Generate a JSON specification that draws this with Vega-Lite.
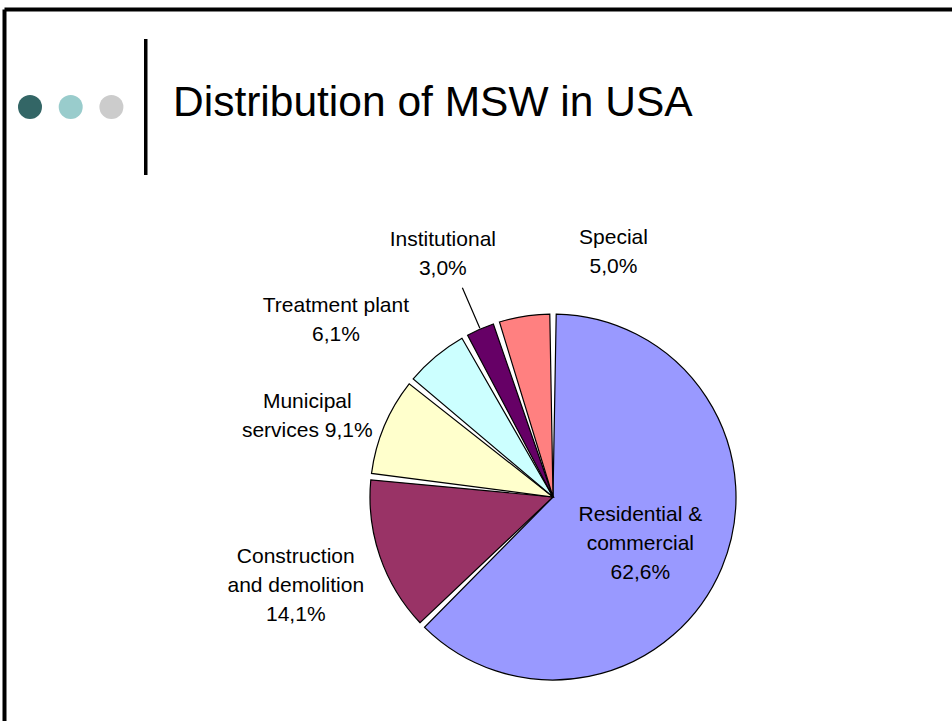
{
  "$schema": "https://vega.github.io/schema/vega-lite/v6.json",
  "width": 1098,
  "height": 976,
  "autosize": {"type": "none"},
  "padding": {"left": 4, "top": 9, "right": 0, "bottom": 0},
  "background": "white",
  "config": {
    "view": {"stroke": null},
    "font": "Liberation Sans"
  },
  "title": {
    "text": "Distribution of MSW in USA",
    "anchor": "start",
    "frame": "group",
    "orient": "top",
    "offset": 0,
    "dx": 169,
    "dy": 155,
    "baseline": "alphabetic",
    "font": "Liberation Sans",
    "fontSize": 42.5,
    "fontWeight": "normal",
    "color": "#000000"
  },
  "data": {
    "values": [
      {"category": "Residential & commercial", "share": 62.6, "rank": 1, "label": ["Residential &", "commercial", "62,6%"]},
      {"category": "Construction and demolition", "share": 14.1, "rank": 2, "label": ["Construction", "and demolition", "14,1%"]},
      {"category": "Municipal services", "share": 9.1, "rank": 3, "label": ["Municipal", "services 9,1%"]},
      {"category": "Treatment plant", "share": 6.1, "rank": 4, "label": ["Treatment plant", "6,1%"]},
      {"category": "Institutional", "share": 3.0, "rank": 5, "label": ["Institutional", "3,0%"]},
      {"category": "Special", "share": 5.0, "rank": 6, "label": ["Special", "5,0%"]}
    ]
  },
  "layer": [
    {
      "mark": {"type": "arc", "radius": 183, "stroke": "black", "strokeWidth": 1.2, "padAngle": 0.035},
      "encoding": {
        "theta": {"field": "share", "type": "quantitative", "stack": true},
        "order": {"field": "rank", "type": "quantitative"},
        "color": {
          "field": "category",
          "type": "nominal",
          "scale": {
            "domain": ["Residential & commercial", "Construction and demolition", "Municipal services", "Treatment plant", "Institutional", "Special"],
            "range": ["#9999FF", "#993366", "#FFFFCC", "#CCFFFF", "#660066", "#FF8080"]
          },
          "legend": null
        }
      }
    },
    {
      "mark": {"type": "arc", "radius": 228, "radius2": 184, "padAngle": 3, "filled": false, "stroke": "black", "strokeWidth": 1.2},
      "encoding": {
        "theta": {"field": "share", "type": "quantitative", "stack": true},
        "order": {"field": "rank", "type": "quantitative"},
        "detail": {"field": "category"},
        "strokeOpacity": {"condition": {"test": "datum.category === 'Institutional'", "value": 1}, "value": 0}
      }
    },
    {
      "mark": {"type": "text", "radius": 98, "dx": -3, "dy": -20, "fontSize": 21, "lineHeight": 29, "align": "center", "baseline": "middle", "fill": "black"},
      "encoding": {
        "theta": {"field": "share", "type": "quantitative", "stack": true},
        "order": {"field": "rank", "type": "quantitative"},
        "detail": {"field": "category"},
        "text": {"condition": {"test": "datum.category === 'Residential & commercial'", "field": "label"}, "value": ""}
      }
    },
    {
      "mark": {"type": "text", "radius": 271, "dx": -1, "dy": -28, "fontSize": 21, "lineHeight": 29, "align": "center", "baseline": "middle", "fill": "black"},
      "encoding": {
        "theta": {"field": "share", "type": "quantitative", "stack": true},
        "order": {"field": "rank", "type": "quantitative"},
        "detail": {"field": "category"},
        "text": {"condition": {"test": "datum.category === 'Construction and demolition'", "field": "label"}, "value": ""}
      }
    },
    {
      "mark": {"type": "text", "radius": 260, "dx": -6, "dy": 6, "fontSize": 21, "lineHeight": 29, "align": "center", "baseline": "middle", "fill": "black"},
      "encoding": {
        "theta": {"field": "share", "type": "quantitative", "stack": true},
        "order": {"field": "rank", "type": "quantitative"},
        "detail": {"field": "category"},
        "text": {"condition": {"test": "datum.category === 'Municipal services'", "field": "label"}, "value": ""}
      }
    },
    {
      "mark": {"type": "text", "radius": 275, "dx": -41, "dy": 20, "fontSize": 21, "lineHeight": 29, "align": "center", "baseline": "middle", "fill": "black"},
      "encoding": {
        "theta": {"field": "share", "type": "quantitative", "stack": true},
        "order": {"field": "rank", "type": "quantitative"},
        "detail": {"field": "category"},
        "text": {"condition": {"test": "datum.category === 'Treatment plant'", "field": "label"}, "value": ""}
      }
    },
    {
      "mark": {"type": "text", "radius": 267, "dx": -4, "dy": -12, "fontSize": 21, "lineHeight": 29, "align": "center", "baseline": "middle", "fill": "black"},
      "encoding": {
        "theta": {"field": "share", "type": "quantitative", "stack": true},
        "order": {"field": "rank", "type": "quantitative"},
        "detail": {"field": "category"},
        "text": {"condition": {"test": "datum.category === 'Institutional'", "field": "label"}, "value": ""}
      }
    },
    {
      "mark": {"type": "text", "radius": 233, "dx": 97, "dy": -29, "fontSize": 21, "lineHeight": 29, "align": "center", "baseline": "middle", "fill": "black"},
      "encoding": {
        "theta": {"field": "share", "type": "quantitative", "stack": true},
        "order": {"field": "rank", "type": "quantitative"},
        "detail": {"field": "category"},
        "text": {"condition": {"test": "datum.category === 'Special'", "field": "label"}, "value": ""}
      }
    },
    {
      "mark": {"type": "text", "text": ""},
      "encoding": {
        "x": {
          "datum": 0,
          "type": "quantitative",
          "axis": {"orient": "top", "domainColor": "black", "domainWidth": 4, "ticks": false, "labels": false, "grid": false, "title": null}
        },
        "y": {
          "datum": 0,
          "type": "quantitative",
          "axis": {"orient": "left", "domainColor": "black", "domainWidth": 4, "ticks": false, "labels": false, "grid": false, "title": null}
        },
        "fill": {
          "datum": "d1",
          "type": "nominal",
          "scale": {"domain": ["d1", "d2", "d3"], "range": ["#336666", "#99CCCC", "#CCCCCC"]},
          "legend": {
            "orient": "none",
            "legendX": 14,
            "legendY": 86,
            "direction": "horizontal",
            "title": null,
            "symbolType": "circle",
            "symbolSize": 576,
            "symbolStrokeWidth": 0,
            "symbolOpacity": 1,
            "labelExpr": "''",
            "labelOffset": 0,
            "columnPadding": 16.7,
            "padding": 0
          }
        },
        "stroke": {
          "datum": 0.5,
          "type": "quantitative",
          "scale": {"domain": [0, 1], "range": ["#000000", "#000000"]},
          "legend": {
            "orient": "none",
            "legendX": 140,
            "legendY": 30,
            "direction": "vertical",
            "title": null,
            "gradientLength": 136,
            "gradientThickness": 3.5,
            "gradientStrokeWidth": 0,
            "labelExpr": "''",
            "padding": 0
          }
        }
      }
    }
  ]
}
